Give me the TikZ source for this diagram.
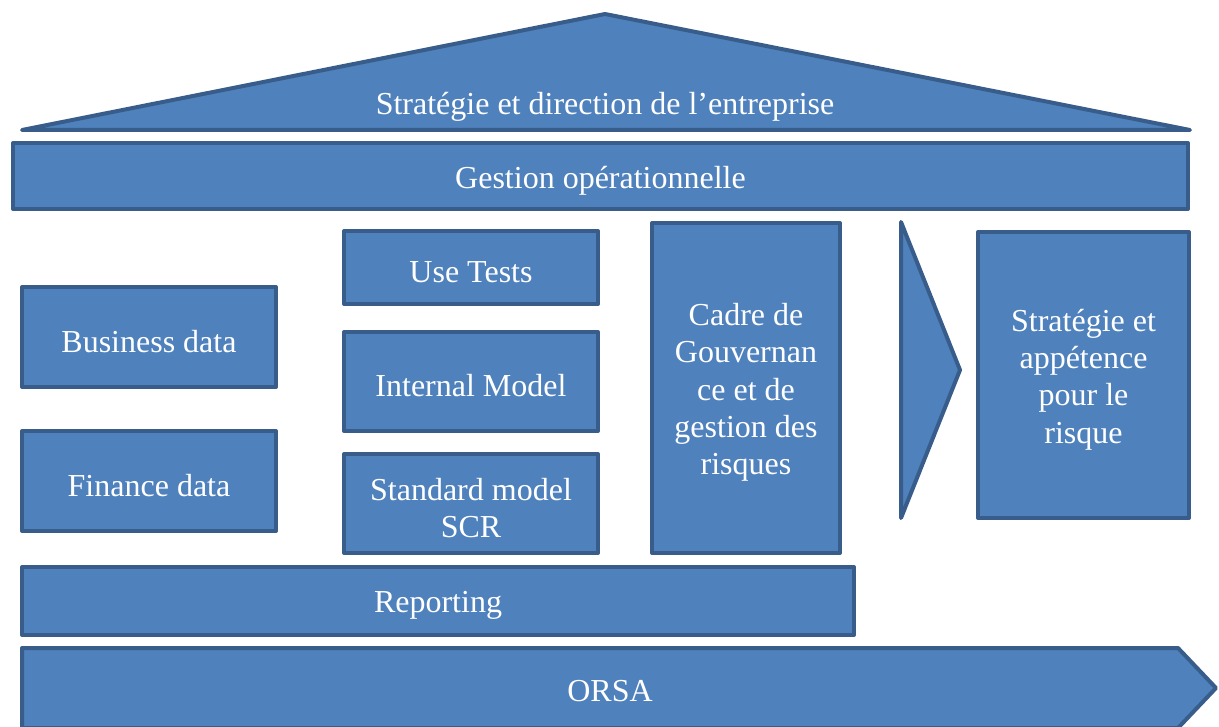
\documentclass[tikz,border=0pt]{standalone}
\usepackage{fontspec}
\setmainfont{Liberation Serif}
\definecolor{fillc}{HTML}{4F81BD}
\definecolor{bordc}{HTML}{385D8A}
\tikzset{
  shp/.style={draw=bordc, fill=fillc, line width=4bp, line join=round},
  lbl/.style={text=white, font=\fontsize{32bp}{37.3bp}\selectfont, align=center, inner sep=0pt},
  blk/.style={shp, rectangle, outer sep=0pt,
    label={[lbl, yshift=-4.5bp]center:#1}},
}
\begin{document}
\begin{tikzpicture}[x=1bp,y=-1bp]
\useasboundingbox (0,0) rectangle (1219,727);
\begin{scope}
\clip (0,0) rectangle (1219,727);
% roof
\draw[shp] (22,130) coordinate (rl) -- (605,14) coordinate (ra) -- (1190,130) coordinate (rr) -- cycle;
\node[lbl] (roof) at (605,107) {Stratégie et direction de l’entreprise};
% bars and boxes
\node[blk={Gestion opérationnelle}, minimum width=1175bp, minimum height=66bp] (gest) at (600.5,176) {};
\node[blk={Use Tests}, minimum width=254bp, minimum height=73bp] (use) at (471,267.5) {};
\node[blk={Business data}, minimum width=254bp, minimum height=100bp] (bus) at (149,337) {};
\node[blk={Internal Model}, minimum width=254bp, minimum height=99bp] (im) at (471,381.5) {};
\node[blk={Finance data}, minimum width=254bp, minimum height=100bp] (fin) at (149,481) {};
\node[blk={Standard model\\SCR}, minimum width=254bp, minimum height=99bp] (std) at (471,503.5) {};
\node[blk={Cadre de\\Gouvernan\\ce et de\\gestion des\\risques}, minimum width=188bp, minimum height=330bp] (cadre) at (746,388) {};
\draw[shp] (901,222) coordinate (ct) -- (960,370) coordinate (cp) -- (901,518) coordinate (cb) -- cycle;
\node[blk={Stratégie et\\appétence\\pour le\\risque}, minimum width=211bp, minimum height=286bp] (strat) at (1083.5,375) {};
\node[blk={Reporting}, minimum width=832bp, minimum height=68bp] (rep) at (438,601) {};
% ORSA arrow
\draw[shp] (22,648) coordinate (o1) -- (1178,648) coordinate (o2) -- (1216,688) coordinate (o3) -- (1178,728) coordinate (o4) -- (22,728) coordinate (o5) -- cycle;
\node[lbl] (orsa) at (610,691) {ORSA};
\end{scope}
\end{tikzpicture}
\end{document}
